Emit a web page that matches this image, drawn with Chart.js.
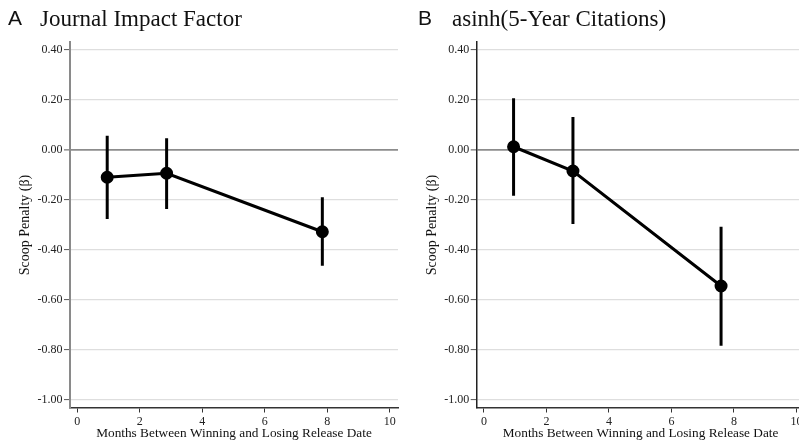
<!DOCTYPE html>
<html>
<head>
<meta charset="utf-8">
<script src="https://cdn.jsdelivr.net/npm/chart.js@4.4.1/dist/chart.umd.min.js"></script>
<style>
  html, body { margin: 0; padding: 0; background: #fff; overflow: hidden; }
  #wrap { position: relative; width: 799px; height: 445px; overflow: hidden; }
  .panel { position: absolute; top: 0; height: 445px; }
  #panelA { left: 0; width: 400px; }
  #panelB { left: 400px; width: 410px; }
</style>
</head>
<body>
<div id="wrap">
  <div class="panel" id="panelA"><canvas id="chartA"></canvas></div>
  <div class="panel" id="panelB"><canvas id="chartB"></canvas></div>
</div>
<script>
// values
const xTicks = [0, 2, 4, 6, 8, 10];
const yTicks = [0.4, 0.2, 0, -0.2, -0.4, -0.6, -0.8, -1.0];

// panel A - Journal Impact Factor
const monthsA = [0.96, 2.86, 7.84];
const estA = [-0.109, -0.093, -0.327];
const loA = [-0.276, -0.236, -0.463];
const hiA = [0.057, 0.047, -0.189];

// panel B - asinh(5-Year Citations)
const monthsB = [0.95, 2.85, 7.59];
const estB = [0.013, -0.084, -0.544];
const loB = [-0.183, -0.296, -0.783];
const hiB = [0.207, 0.132, -0.307];

const serif = "'Liberation Serif', 'Times New Roman', serif";

// draws the "A  Journal Impact Factor" heading above the plot
const headingPlugin = {
  id: "heading",
  afterDraw(chart, args, opts) {
    const ctx = chart.ctx;
    ctx.save();
    ctx.fillStyle = "#111";
    ctx.textBaseline = "alphabetic";
    ctx.font = "21px 'Liberation Sans', Arial, sans-serif";
    ctx.fillText(opts.letter, opts.letterX, 25);
    ctx.font = "23px " + serif;
    ctx.fillText(opts.text, opts.textX, 26);
    ctx.restore();
  },
};

function makeChart(id, months, est, lo, hi, o) {
  const datasets = [];
  // error bars, one little line per estimate
  months.forEach((m, i) => {
    datasets.push({
      type: "line",
      data: [{ x: m, y: lo[i] }, { x: m, y: hi[i] }],
      borderColor: "#000",
      borderWidth: 3,
      pointRadius: 0,
      borderCapStyle: "butt",
    });
  });
  datasets.push({
    type: "line",
    data: months.map((m, i) => ({ x: m, y: est[i] })),
    borderColor: "#000",
    backgroundColor: "#000",
    borderWidth: 3,
    pointRadius: 5,
    pointBackgroundColor: "#000",
    pointBorderColor: "#000",
  });

  return new Chart(document.getElementById(id), {
    type: "scatter",
    data: { datasets },
    options: {
      responsive: true,
      maintainAspectRatio: false,
      animation: false,
      showLine: true,
      layout: { autoPadding: false, padding: { top: 42, right: o.padRight, left: 0, bottom: 0 } },
      plugins: {
        legend: { display: false },
        tooltip: { enabled: false },
        heading: o.heading,
      },
      scales: {
        x: {
          type: "linear",
          min: -0.23,
          max: 10.26,
          afterBuildTicks: (s) => { s.ticks = xTicks.map((v) => ({ value: v })); },
          afterFit: (s) => { s.height = 37; },
          border: { display: true, color: "#333", width: 1.5 },
          grid: { drawOnChartArea: false, drawTicks: true, tickLength: 4.5, tickColor: "#333", tickWidth: 1 },
          ticks: { color: "#222", font: { family: serif, size: 12 }, padding: 2.5, maxRotation: 0 },
          title: {
            display: true,
            text: "Months Between Winning and Losing Release Date",
            color: "#111",
            font: { family: serif, size: 13.3 },
            padding: { top: 0, bottom: 4 },
          },
        },
        y: {
          type: "linear",
          min: -1.032,
          max: 0.432,
          afterBuildTicks: (s) => { s.ticks = yTicks.map((v) => ({ value: v })); },
          afterFit: (s) => { s.width = o.axisX; },
          border: { display: true, color: o.yAxisColor, width: o.yAxisWidth },
          grid: {
            color: (c) => (c.tick && c.tick.value === 0 ? "#8c8c8c" : "#dedede"),
            lineWidth: (c) => (c.tick && c.tick.value === 0 ? 1.8 : 1.2),
            tickColor: "#555",
            tickLength: 6,
            tickWidth: 1,
          },
          ticks: {
            color: "#222",
            font: { family: serif, size: 12 },
            padding: 1.5,
            callback: (v) => v.toFixed(2),
          },
          title: {
            display: true,
            text: "Scoop Penalty (β)",
            color: "#111",
            font: { family: serif, size: 14 },
            padding: { top: o.titleX - 8.4, bottom: 0 },
          },
        },
      },
    },
    plugins: [headingPlugin],
  });
}

makeChart("chartA", monthsA, estA, loA, hiA, {
  axisX: 70,
  padRight: 2,
  titleX: 25,
  yAxisColor: "#8a8a8a",
  yAxisWidth: 2,
  heading: { letter: "A", letterX: 8, text: "Journal Impact Factor", textX: 40 },
});

makeChart("chartB", monthsB, estB, loB, hiB, {
  axisX: 76.7,
  padRight: 5.5,
  titleX: 32.5,
  yAxisColor: "#222",
  yAxisWidth: 1.5,
  heading: { letter: "B", letterX: 18, text: "asinh(5-Year Citations)", textX: 52 },
});
</script>
</body>
</html>
